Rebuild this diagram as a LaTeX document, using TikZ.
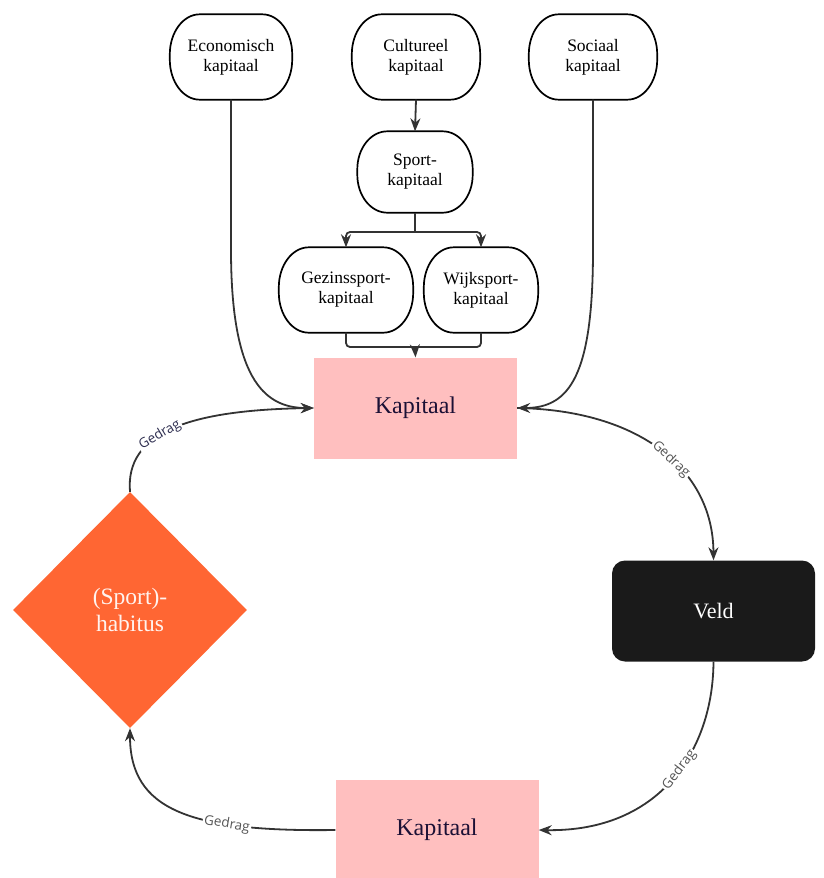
\documentclass[tikz,border=0pt]{standalone}
\usepackage{fontspec}
\setmainfont{Liberation Serif}
\newfontfamily\lblfont{Open Sans}
\usetikzlibrary{arrows.meta,shapes.geometric}
\definecolor{linec}{HTML}{333333}
\definecolor{pinkc}{HTML}{FFBFBF}
\definecolor{orangec}{HTML}{FF6633}
\definecolor{veldc}{HTML}{1A1A1A}
\definecolor{navyc}{HTML}{1B1035}
\definecolor{lblgray}{HTML}{555555}
\definecolor{lblnavy}{HTML}{2E2E50}
\tikzset{
  roundbox/.style={align=center, minimum height=85pt, inner sep=2pt, font=\fontsize{17.5}{20}\selectfont},
  border/.style={draw=black, line width=1.7pt},
  kapbox/.style={fill=pinkc, minimum width=203pt, minimum height=101pt, text=navyc,
    font=\fontsize{24}{28}\selectfont},
  arr/.style={draw=linec, line width=1.8pt, -{Stealth[length=13pt,width=10pt]}},
  plain/.style={draw=linec, line width=1.8pt},
  lbl/.style={fill=white, inner sep=1.5pt, text=lblgray, font=\lblfont\fontsize{13.5}{15}\selectfont, sloped},
}
% outline with elliptic corners: #1 node, #2 rx, #3 ry
\newcommand\rbord[3]{%
  \pgfmathsetmacro\kx{0.448*#2}\pgfmathsetmacro\ky{0.448*#3}%
  \draw[border] ([xshift=-#2pt]#1.north east)
    .. controls ([xshift=-\kx pt]#1.north east) and ([yshift=-\ky pt]#1.north east) .. ([yshift=-#3pt]#1.north east)
    -- ([yshift=#3pt]#1.south east)
    .. controls ([yshift=\ky pt]#1.south east) and ([xshift=-\kx pt]#1.south east) .. ([xshift=-#2pt]#1.south east)
    -- ([xshift=#2pt]#1.south west)
    .. controls ([xshift=\kx pt]#1.south west) and ([yshift=\ky pt]#1.south west) .. ([yshift=#3pt]#1.south west)
    -- ([yshift=-#3pt]#1.north west)
    .. controls ([yshift=-\ky pt]#1.north west) and ([xshift=\kx pt]#1.north west) .. ([xshift=#2pt]#1.north west)
    -- cycle;}
\begin{document}
\begin{tikzpicture}[x=1pt,y=-1pt]
\useasboundingbox (0,0) rectangle (823,878);
% top nodes
\node[roundbox, minimum width=122pt] (eco) at (231,57) {Economisch\\kapitaal};
\node[roundbox, minimum width=128pt] (cult) at (416,57) {Cultureel\\kapitaal};
\node[roundbox, minimum width=128pt] (soc) at (593,57) {Sociaal\\kapitaal};
\node[roundbox, minimum width=115pt, minimum height=81pt] (sport) at (415,172) {Sport-\\kapitaal};
\node[roundbox, minimum width=134pt] (gez) at (346,290) {Gezinssport-\\kapitaal};
\node[roundbox, minimum width=114pt] (wijk) at (481,290) {Wijksport-\\kapitaal};
\rbord{eco}{30}{40}
\rbord{cult}{30}{40}
\rbord{soc}{30}{40}
\rbord{sport}{30}{38}
\rbord{gez}{30}{40}
\rbord{wijk}{30}{40}
% main nodes
\node[kapbox] (kap) at (415.5,408) {Kapitaal};
\node[kapbox] (kapb) at (437,830) {Kapitaal};
\node[fill=veldc, rounded corners=13pt, minimum width=203pt, minimum height=101pt,
  text=white, font=\fontsize{22}{26}\selectfont] (veld) at (713.5,611) {Veld};
\node[diamond, fill=orangec, minimum width=234pt, minimum height=236pt, inner sep=0pt,
  align=center, text=white!92!orangec, font=\fontsize{23.5}{27}\selectfont] (hab) at (130,610) {(Sport)-\\habitus};
% top connectors
\draw[arr] (cult.south) -- (sport.north);
\coordinate (br) at (415,232);
\draw[plain] (sport.south) -- (br);
\draw[arr, rounded corners=4pt] (br) -| (gez.north);
\draw[arr, rounded corners=4pt] (br) -| (wijk.north);
\coordinate (mg) at (415,347);
\draw[plain, rounded corners=4pt] (gez.south) |- (mg) -| (wijk.south);
\draw[arr] (mg) -- (kap.north);
\draw[arr] (eco.south) -- ++(0,150) .. controls +(0,125) and (262,408) .. (kap.west);
\draw[arr] (soc.south) -- ++(0,150) .. controls +(0,125) and (570,408) .. (kap.east);
% cycle
\draw[arr] (hab.north) .. controls (125,432) and (190,410) .. node[lbl, pos=0.42, text=lblnavy] {Gedrag} (kap.west);
\draw[arr] (kap.east) .. controls (640,410) and (713,470) .. node[lbl, pos=0.55] {Gedrag} (veld.north);
\draw[arr] (veld.south) .. controls (713,750) and (660,832) .. node[lbl, pos=0.45] {Gedrag} (kapb.east);
\draw[arr] (kapb.west) .. controls (190,832) and (130,810) .. node[lbl, pos=0.3] {Gedrag} (hab.south);
\end{tikzpicture}
\end{document}
